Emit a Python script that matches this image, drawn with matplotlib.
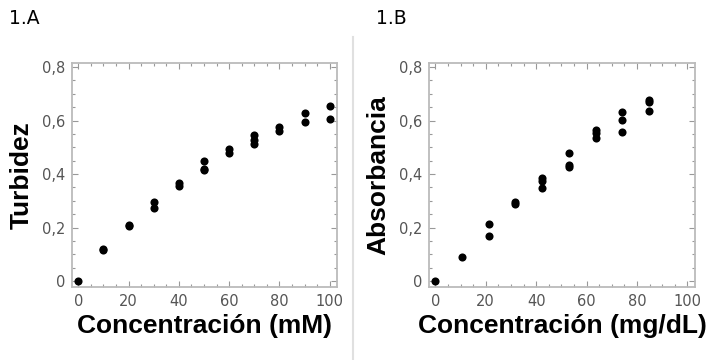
import numpy as np
import matplotlib.pyplot as plt
from matplotlib.ticker import MultipleLocator, FuncFormatter

# panel A: turbidity vs concentration (mM)
conc_a = [0, 10, 10, 20, 20, 30, 30, 40, 40, 50, 50, 50, 60, 60, 70, 70, 70,
          80, 80, 90, 90, 100, 100]
turb_a = [0.0, 0.115, 0.12, 0.205, 0.21, 0.272, 0.296, 0.357, 0.367, 0.415,
          0.42, 0.449, 0.478, 0.494, 0.513, 0.528, 0.545, 0.56, 0.575,
          0.593, 0.628, 0.605, 0.655]

# panel B: absorbance vs concentration (mg/dL)
conc_b = [0, 10.6, 21.2, 21.2, 31.8, 31.8, 42.4, 42.4, 42.4, 53, 53, 53,
          63.6, 63.6, 63.6, 74.2, 74.2, 74.2, 84.8, 84.8, 84.8]
abs_b = [0.0, 0.09, 0.17, 0.212, 0.288, 0.296, 0.346, 0.375, 0.386, 0.428,
         0.434, 0.478, 0.534, 0.553, 0.565, 0.556, 0.603, 0.631, 0.636,
         0.668, 0.678]

xticks = [0, 20, 40, 60, 80, 100]
yticks = [0, 0.2, 0.4, 0.6, 0.8]

fig = plt.figure(figsize=(7.13, 3.6), dpi=100)

def fmt(v, pos):
    if abs(v) < 1e-9:
        return '0'
    return ('%.1f' % v).replace('.', ',')

def panel(rect, x, y, ylab, xlab):
    ax = fig.add_axes(rect)
    ax.scatter(x, y, s=34, color='black', zorder=3, linewidths=0)
    ax.set_xlim(-2.5, 103)
    ax.set_ylim(-0.022, 0.815)
    ax.set_xticks(xticks)
    ax.set_yticks(yticks)
    ax.xaxis.set_minor_locator(MultipleLocator(5))
    ax.yaxis.set_minor_locator(MultipleLocator(0.05))
    ax.yaxis.set_major_formatter(FuncFormatter(fmt))
    ax.tick_params(which='both', direction='in', top=True, right=True,
                   color='#999999', labelcolor='#555555', labelsize=10.5,
                   width=0.8)
    ax.tick_params(which='major', length=4, pad=5)
    ax.tick_params(which='minor', length=2.5)
    for s in ax.spines.values():
        s.set_color('#bbbbbb')
        s.set_linewidth(1.3)
    for lab in ax.get_xticklabels() + ax.get_yticklabels():
        lab.set_family('Liberation Sans Narrow')
    ax.set_ylabel(ylab, fontsize=19, fontweight='bold', family='Liberation Sans',
                  labelpad=6)
    ax.set_xlabel(xlab, fontsize=19, fontweight='bold', family='Liberation Sans',
                  labelpad=4)
    return ax

panel([0.101, 0.203, 0.372, 0.622], conc_a, turb_a, 'Turbidez',
      'Concentración (mM)')
panel([0.6017, 0.203, 0.373, 0.622], conc_b, abs_b, 'Absorbancia',
      'Concentración (mg/dL)')

fig.text(0.013, 0.95, '1.A', fontsize=13.5, family='Liberation Sans Narrow', va='center')
fig.text(0.528, 0.95, '1.B', fontsize=13.5, family='Liberation Sans Narrow', va='center')

# thin separator between panels
fig.add_artist(plt.Line2D([0.495, 0.495], [0.0, 0.897], color='#e0e0e0', lw=1.5))

fig.savefig('out.png', dpi=100)
